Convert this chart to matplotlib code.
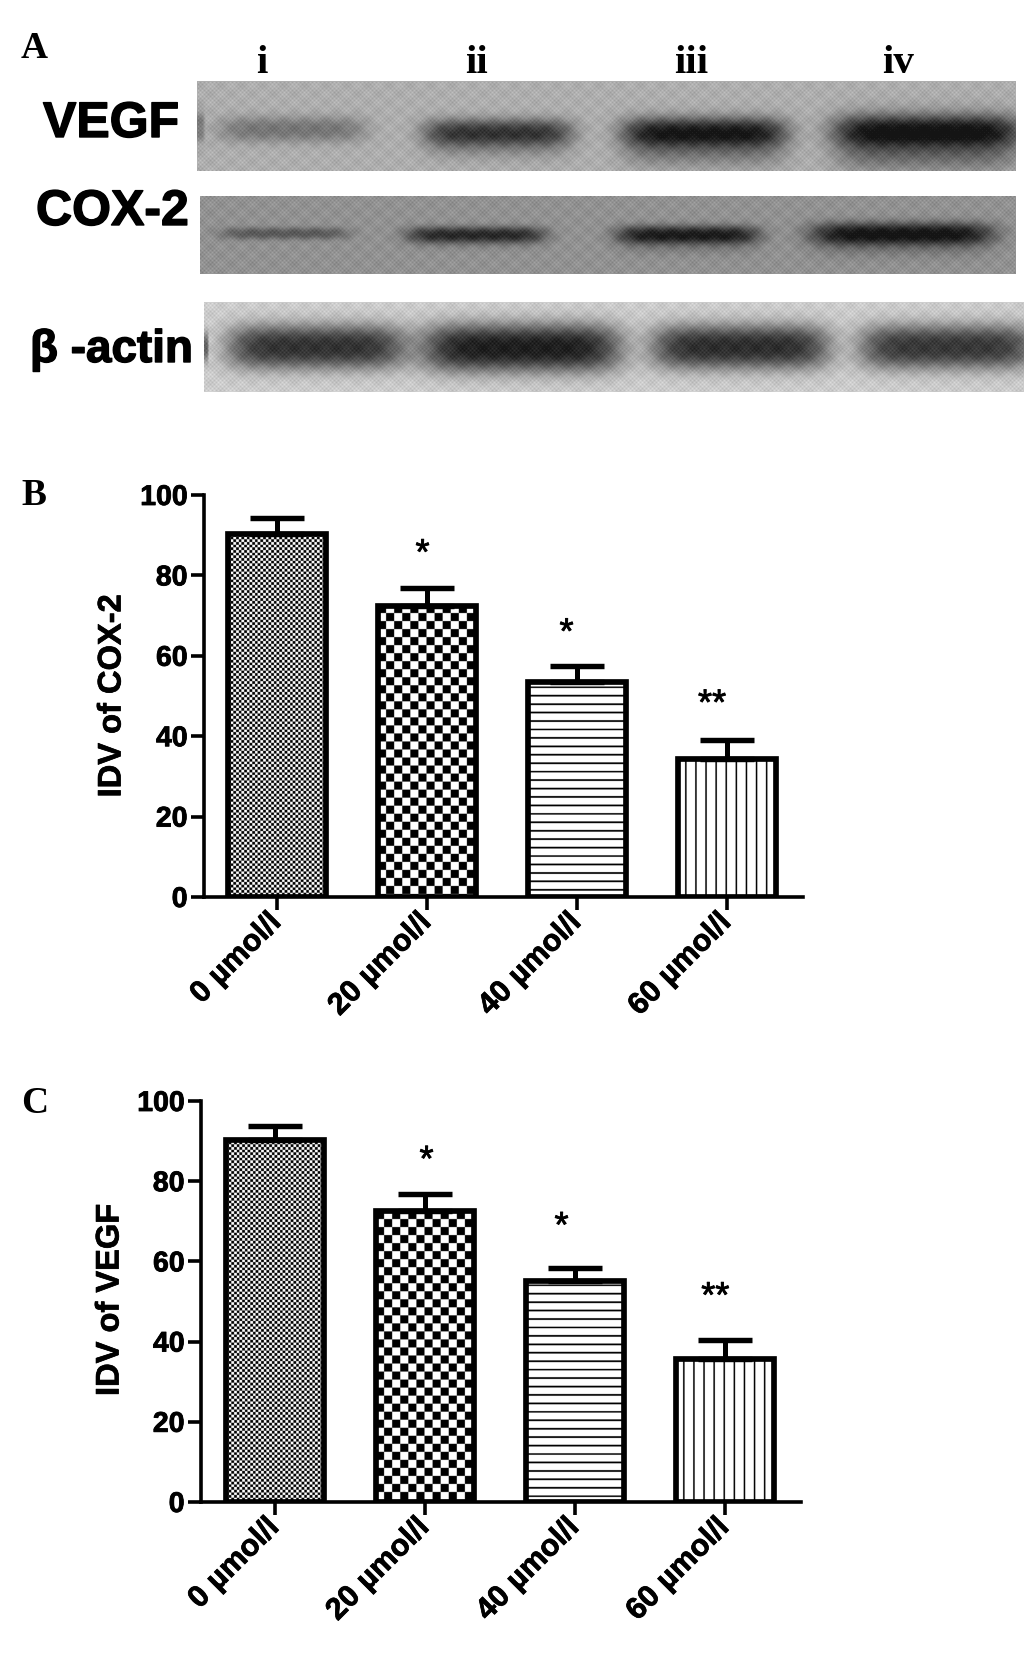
import numpy as np
import matplotlib
matplotlib.use('Agg')
import matplotlib.pyplot as plt
import matplotlib.patheffects as pe
from matplotlib.transforms import ScaledTranslation

W, H = 1033, 1669
plt.rcParams['font.family'] = ['Liberation Sans', 'DejaVu Sans']

doses = ['0 µmol/l', '20 µmol/l', '40 µmol/l', '60 µmol/l']
yticks = [0, 20, 40, 60, 80, 100]
cox2_means = [90.2, 72.5, 53.4, 34.3]
cox2_caps = [94.4, 76.8, 57.5, 39.0]
cox2_stars = [None, 85.2, 65.5, 47.8]
cox2_star_shift = [0, -0.03, -0.07, -0.10]
vegf_means = [90.3, 72.5, 55.2, 35.6]
vegf_caps = [93.7, 76.8, 58.4, 40.3]
vegf_stars = [None, 85.0, 68.5, 51.0]
vegf_star_shift = [0, 0.01, -0.09, -0.065]
star_labels = ['', '*', '*', '**']
patterns = ['fine', 'coarse', 'hlines', 'vlines']
lanes = ['i', 'ii', 'iii', 'iv']
lane_x = [262, 477, 691, 898]

# blots: box, background grey, then bands as x0, x1, y centre, half height, darkness
vegf_box = (197, 1016, 81, 171)
vegf_bg = 0.68
vegf_bands = [(218, 366, 129, 13, 0.22), (422, 574, 131, 13, 0.30), (424, 570, 139, 18, 0.20),
              (620, 788, 131, 14, 0.34), (622, 786, 141, 23, 0.29),
              (830, 1024, 130, 15, 0.32), (834, 1020, 141, 28, 0.35),
              (190, 204, 126, 16, 0.2)]
cox_box = (200, 1016, 196, 274)
cox_bg = 0.57
cox_bands = [(220, 349, 233, 6, 0.22), (405, 546, 234, 8, 0.32), (408, 544, 238, 10, 0.10),
             (615, 760, 234, 9, 0.36), (617, 758, 240, 13, 0.12),
             (809, 995, 233, 11, 0.38), (812, 990, 240, 16, 0.14)]
actin_box = (204, 1024, 303, 392)
actin_bg = 0.80
actin_bands = [(226, 406, 347, 22, 0.60), (420, 622, 348, 24, 0.68),
               (650, 830, 347, 22, 0.62), (858, 1036, 347, 22, 0.58),
               (200, 208, 347, 14, 0.4)]


def make_blot(box, bg, bands):
    x0, x1, y0, y1 = box
    xx, yy = np.meshgrid(np.arange(x0, x1), np.arange(y0, y1))
    img = np.full(xx.shape, float(bg))
    for a, b, cy, hh, dark in bands:
        cx = (a + b) / 2
        hw = (b - a) / 2
        img -= dark * np.exp(-((xx - cx) / hw) ** 6) * np.exp(-np.abs((yy - cy) / hh) ** 2.5)
    # halftone look of the scan
    img += 0.05 * np.cos(np.pi * xx / 2) * np.cos(np.pi * yy / 2)
    img += 0.025 * np.cos(2 * np.pi * xx / 21) * np.cos(2 * np.pi * yy / 17)
    return np.clip(img, 0.08, 1)


def make_pattern(kind, w, h):
    # four samples per pixel, the image is smoothed back down when drawn
    s = 4
    xx, yy = np.meshgrid((np.arange(w * s) + 0.5) / s, (np.arange(h * s) + 0.5) / s)
    if kind == 'fine':
        return ((np.floor(xx / 2.67) + np.floor(yy / 2.67)) % 2).astype(float)
    if kind == 'coarse':
        return ((np.floor(xx / 8) + np.floor(yy / 8)) % 2).astype(float)
    if kind == 'hlines':
        return ((yy + 4) % 8.4 >= 1.7).astype(float)
    return ((xx + 3) % 10 >= 1.6).astype(float)


def heavy(width=0.7):
    return [pe.withStroke(linewidth=width, foreground='black')]


def bar_panel(rect, xmin, xmax, means, caps, stars, star_shift, ylabel, ylabel_x, ylabel_y):
    left, right, top, bottom = rect
    ax = fig.add_axes([left / W, 1 - bottom / H, (right - left) / W, (bottom - top) / H])
    x = np.arange(len(means))
    bars = ax.bar(x, means, width=0.65, facecolor='none', edgecolor='black',
                  linewidth=4.1, zorder=3)
    px_per_unit = (right - left) / (xmax - xmin)
    for b, kind in zip(bars, patterns):
        bw = b.get_width()
        bh = b.get_height()
        w = int(bw * px_per_unit)
        h = int(bh * (bottom - top) / 100)
        ax.imshow(make_pattern(kind, w, h), cmap='gray', vmin=0, vmax=1, aspect='auto',
                  extent=(b.get_x(), b.get_x() + bw, 0, bh), zorder=2,
                  interpolation='hanning')
    upper = np.array(caps) - np.array(means)
    ax.errorbar(x, means, yerr=[np.zeros(len(means)), upper], fmt='none', ecolor='black',
                elinewidth=3.6, capsize=19.5, capthick=3.9, zorder=2.5)
    for i, s in enumerate(stars):
        if s is not None:
            ax.text(i + star_shift[i], s, star_labels[i], ha='center', va='center',
                    fontsize=26, color='black', path_effects=heavy(0.6))
    ax.set_xlim(xmin, xmax)
    ax.set_ylim(0, 100)
    ax.set_xticks(x)
    ax.set_xticklabels(doses, rotation=45, ha='right', rotation_mode='anchor',
                       fontsize=22, fontweight='bold', path_effects=heavy(0.5))
    ax.set_yticks(yticks)
    ax.set_yticklabels([str(t) for t in yticks], fontsize=20.5, fontweight='bold',
                       path_effects=heavy(0.6))
    ax.tick_params(axis='both', length=9.4, width=2.6, pad=2.5)
    ax.tick_params(axis='x', pad=1)
    shift = ScaledTranslation(-11 / 100, 4 / 100, fig.dpi_scale_trans)
    for lab in ax.get_xticklabels():
        lab.set_transform(lab.get_transform() + shift)
    ax.spines['top'].set_visible(False)
    ax.spines['right'].set_visible(False)
    ax.spines['left'].set_linewidth(2.6)
    ax.spines['bottom'].set_linewidth(2.6)
    ax.patch.set_alpha(0)
    overlay.text(ylabel_x, ylabel_y, ylabel, rotation=90, ha='center', va='center',
                 fontsize=23.5, fontweight='bold', path_effects=heavy(0.5))
    return ax


fig = plt.figure(figsize=(W / 100, H / 100), dpi=100, facecolor='white')

overlay = fig.add_axes([0, 0, 1, 1])
overlay.axis('off')

for box, bg, bands in [(vegf_box, vegf_bg, vegf_bands), (cox_box, cox_bg, cox_bands),
                       (actin_box, actin_bg, actin_bands)]:
    overlay.imshow(make_blot(box, bg, bands), cmap='gray', vmin=0, vmax=1, aspect='auto',
                   extent=(box[0], box[1], box[3], box[2]), interpolation='nearest')
overlay.set_xlim(0, W)
overlay.set_ylim(H, 0)

serif = 'Liberation Serif'
for name, py in [('A', 58), ('B', 505), ('C', 1113)]:
    overlay.text(21, py, name, family=serif, fontweight='bold', fontsize=27, va='baseline')
for name, px in zip(lanes, lane_x):
    overlay.text(px, 73, name, family=serif, fontweight='bold', fontsize=29.5, ha='center',
                 va='baseline')
overlay.text(43, 137, 'VEGF', fontweight='bold', fontsize=36, va='baseline', path_effects=heavy(1))
overlay.text(36, 225, 'COX-2', fontweight='bold', fontsize=36, va='baseline', path_effects=heavy(1))
overlay.text(30, 362, 'β -actin', fontweight='bold', fontsize=33, va='baseline', path_effects=heavy(1))

# tick positions sit 150 px apart, axes limits follow from that
bar_panel((204, 803, 495, 897), (204 - 277) / 150, (803 - 277) / 150,
          cox2_means, cox2_caps, cox2_stars, cox2_star_shift, 'IDV of COX-2', 112, 696)
bar_panel((201, 801, 1101, 1502), (201 - 275) / 150, (801 - 275) / 150,
          vegf_means, vegf_caps, vegf_stars, vegf_star_shift, 'IDV of VEGF', 110, 1300)

fig.savefig('out.png', dpi=100)
